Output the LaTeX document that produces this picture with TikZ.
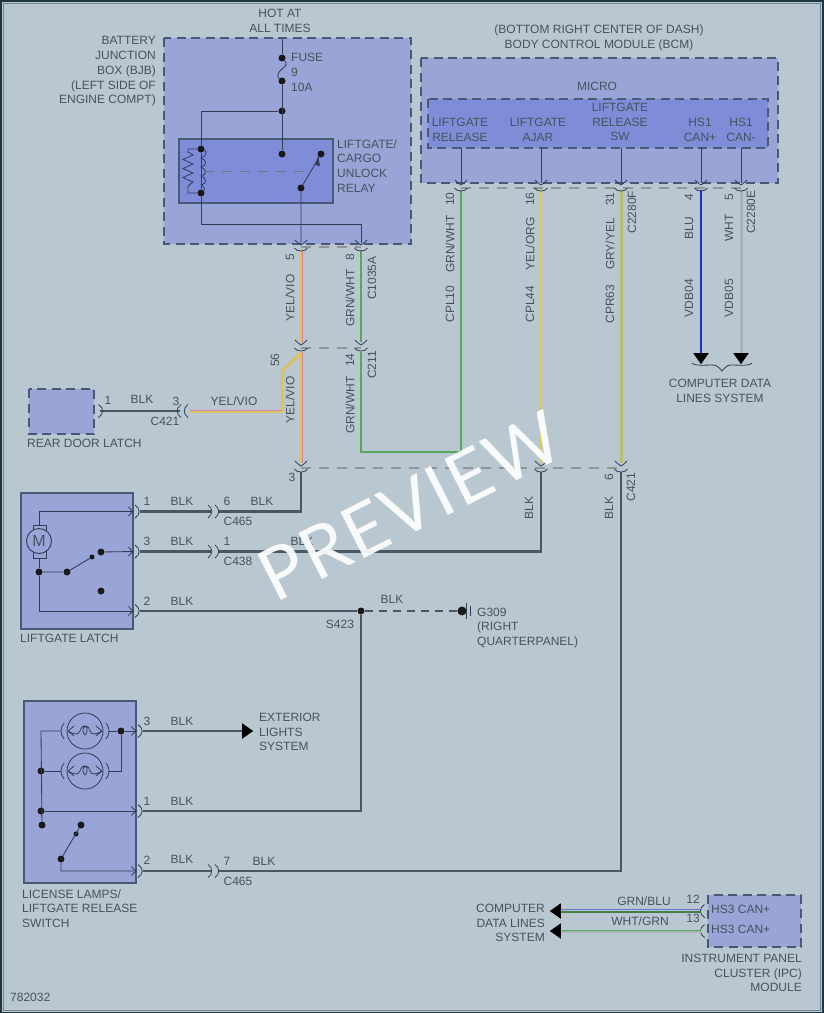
\documentclass[tikz,border=0pt]{standalone}
\usepackage{fontspec}
\setmainfont{Liberation Sans}
\newfontfamily\wmfont[LetterSpace=3]{Lato}
\usetikzlibrary{shapes.geometric}
\definecolor{pagebg}{HTML}{B9C8D0}
\definecolor{edgecol}{HTML}{1F3540}
\definecolor{boxfill}{HTML}{98A5D6}
\definecolor{innerfill}{HTML}{7F8CD8}
\definecolor{boxline}{HTML}{4A5878}
\definecolor{inkline}{HTML}{333D58}
\definecolor{txt}{HTML}{46525C}
\definecolor{blkwire}{HTML}{4A5662}
\definecolor{yelw}{HTML}{E2C24E}
\definecolor{pinkw}{HTML}{D088A8}
\definecolor{grnw}{HTML}{58A85C}
\definecolor{yorg}{HTML}{DCCB50}
\definecolor{gyel}{HTML}{B7BE72}
\definecolor{bluw}{HTML}{2030C8}
\definecolor{whtw}{HTML}{A9B3BA}
\tikzset{
  lbl/.style={font=\fontsize{12}{14.8}\selectfont,text=txt,inner sep=0pt,align=center},
  lbll/.style={lbl,anchor=west,align=left},
  lblr/.style={lbl,anchor=east,align=right},
  vlbl/.style={lbl,rotate=90},
  dashbox/.style={draw=boxline,line width=1.4pt,dash pattern=on 9pt off 5.5pt,fill=boxfill},
  solidbox/.style={draw=boxline,line width=1.2pt,fill=boxfill},
  thin wire/.style={draw=inkline,line width=.85pt},
  blkw/.style={draw=blkwire,line width=2.8pt},
  grnwire/.style={draw=grnw,line width=2.7pt},
  conndash/.style={draw=gray!70!pagebg,line width=1.1pt,dash pattern=on 10pt off 8pt},
  dotn/.style={circle,fill=black!90,inner sep=0pt,minimum size=#1},
  dotn/.default=7pt,
  symb/.style={draw=inkline,line width=.8pt},
  headarrow/.style={isosceles triangle,isosceles triangle apex angle=70,fill=black,inner sep=0pt,minimum height=11pt,minimum width=14pt,rotate=#1},
  vjoin/.pic={\draw[symb] (-6,-7) .. controls (-4,-5) and (-2,-3) .. (0,-2) .. controls (2,-3) and (4,-5) .. (6,-7);
              \draw[symb] (-6.5,1) .. controls (-4.5,5) and (4.5,5) .. (6.5,1);},
  hpin/.pic={\draw[symb] (-5,-4.5) .. controls (-3,-2) and (-2,-1) .. (0,0) .. controls (-2,1) and (-3,2) .. (-5,4.5);
             \draw[symb] (1.5,-6.5) .. controls (7,-3) and (7,3) .. (1.5,6.5);},
  pardir/.pic={\draw[symb] (-1,-6.5) .. controls (4,-3) and (4,3) .. (-1,6.5);
               \draw[symb] (6,-6.5) .. controls (11,-3) and (11,3) .. (6,6.5);},
  pardil/.pic={\draw[symb] (1,-6.5) .. controls (-4,-3) and (-4,3) .. (1,6.5);
               \draw[symb] (-6,-6.5) .. controls (-11,-3) and (-11,3) .. (-6,6.5);},
  ppin/.pic={\draw[symb] (1.5,-6.5) .. controls (7,-3) and (7,3) .. (1.5,6.5);},
  ppinl/.pic={\draw[symb] (-1.5,-6.5) .. controls (-7,-3) and (-7,3) .. (-1.5,6.5);},
  lampsym/.pic={
    \draw[symb] (0,0) circle (18);
    \draw[symb] (-21,-8) .. controls (-25,-3) and (-25,3) .. (-21,8);
    \draw[symb] (21,-8) .. controls (25,-3) and (25,3) .. (21,8);
    \draw[symb] (-11,-5) -- (-17,0) -- (-11,5);
    \draw[symb] (11,-5) -- (17,0) -- (11,5);
    \draw[symb] (-17,0) .. controls (-10,4) and (-7,4) .. (-5,0) .. controls (-3,-7) and (3,-7) .. (2,0) .. controls (1,5) and (-1,5) .. (-2,0) .. controls (-2,-7) and (4,-6) .. (5,0) .. controls (7,4) and (10,4) .. (17,0);}
}
\begin{document}
\begin{tikzpicture}[x=1pt,y=-1pt]
\useasboundingbox (0,0) rectangle (823,1013);
\fill[pagebg] (0,0) rectangle (823,1013);
\draw[edgecol,line width=3pt] (0,0) rectangle (823,1013);
\draw[edgecol!45!pagebg,line width=1pt] (3,3) rectangle (820,1010);

% ---- boxes
\path[dashbox] (164,38) rectangle (411,244);
\path[solidbox,fill=innerfill] (179,139) rectangle (333,203);
\path[dashbox] (421,58) rectangle (778,183);
\path[dashbox,fill=innerfill] (428,99) rectangle (768,148);
\path[dashbox] (29,389) rectangle (94,434);
\path[solidbox] (21,493) rectangle (133,629);
\path[solidbox] (24,701) rectangle (136,883);
\path[dashbox] (708,895) rectangle (801,947);

% ---- named points
\coordinate (hot) at (282,39);
\node[dotn] (f1) at (282,58) {};
\node[dotn] (f2) at (282,81) {};
\node[dotn] (j1) at (282,111) {};
\node[dotn] (r1) at (282,154) {};
\node[dotn] (r2) at (321,154) {};
\node[dotn] (r3) at (301,188) {};
\node[dotn] (c1) at (201,149) {};
\node[dotn] (c2) at (201,193) {};
\coordinate (p5a) at (301,243);
\coordinate (p8a) at (361,243);
\coordinate (rb) at (201,224);
\coordinate (rb2) at (361,224);
\coordinate (jb) at (201,111);
\coordinate (a5) at (301,250);
\coordinate (a8) at (361,250);
\coordinate (b5) at (301,342);
\coordinate (b8) at (361,342);
\coordinate (c5) at (301,352);
\coordinate (c8) at (361,352);
\coordinate (d5) at (301,463);

% ---- relay
\draw[thin wire] (hot) -- (f1);
\draw[thin wire] (f1) .. controls (287,63) and (287,65) .. (282,69) .. controls (277,73) and (277,77) .. (f2);
\draw[thin wire] (f2) -- (r1);
\draw[thin wire] (j1) -- (jb) -- (c1) -- (c2) -- (rb) -- (rb2) -- (p8a);
\draw[thin wire] (r2) -- (r3) -- (p5a);
\path[fill=inkline] (315,165) -- (318,156) -- (320,166) -- cycle;
\draw[thin wire,line width=.8pt] (c1) -- (188,149) -- (188,152) -- (193,155) -- (183,159.5) -- (193,164) -- (183,168.5) -- (193,173) -- (183,177.5) -- (193,182) -- (188,186) -- (188,193) -- (c2);
\draw[thin wire,line width=.8pt] (c1) .. controls (207,151) and (207,157) .. (201,158) .. controls (207,160) and (207,166) .. (201,167) .. controls (207,169) and (207,175) .. (201,176) .. controls (207,178) and (207,184) .. (201,185) .. controls (205,187) and (205,190) .. (c2);
\draw[gray!70!boxline,line width=.9pt,dash pattern=on 10pt off 8pt] (204,171) -- (310,171);

% ---- BCM stubs
\foreach \nm/\xx in {a/461,b/541,c/621,d/701,e/741}{
  \coordinate (bt\nm) at (\xx,148);
  \coordinate (bb\nm) at (\xx,183);
  \draw[thin wire] (bt\nm) -- (bb\nm);
}

% ---- connector dashed lines
\coordinate (dl1a) at (301,247); \coordinate (dl1b) at (361,247);
\coordinate (dl2a) at (301,348); \coordinate (dl2b) at (361,348);
\coordinate (dl3a) at (301,468); \coordinate (dl3b) at (621,468);
\coordinate (dl4a) at (461,188); \coordinate (dl4b) at (741,188);
\draw[conndash] (dl1a) -- (dl1b);
\draw[conndash] (dl2a) -- (dl2b);
\draw[conndash] (dl3a) -- (dl3b);
\draw[conndash] (dl4a) -- (dl4b);

% ---- coloured wires
\coordinate (e1) at (461,190); \coordinate (e2) at (461,452); \coordinate (e3) at (361,452);
\draw[grnwire] (a8) -- (b8);
\draw[grnwire] (e1) -- (e2) -- (e3) -- (c8);
\coordinate (e4) at (541,190); \coordinate (e5) at (541,463);
\draw[draw=yorg,line width=2.7pt] (e4) -- (e5);
\coordinate (e6) at (621,190); \coordinate (e7) at (621,463);
\draw[draw=gyel,line width=3pt] (e6) -- (e7);
\coordinate (e8) at (701,190); \coordinate (e9) at (701,353);
\draw[draw=bluw,line width=2.7pt] (e8) -- (e9);
\coordinate (e10) at (741,190); \coordinate (e11) at (741,353);
\draw[draw=whtw,line width=3pt] (e10) -- (e11);
% yellow/violet
\draw[draw=yelw,line width=2.2pt,transform canvas={xshift=-.4pt}] (a5) -- (b5);
\draw[draw=pinkw,line width=1pt,transform canvas={xshift=1pt}] (a5) -- (b5);
\draw[draw=yelw,line width=2.2pt,transform canvas={xshift=-.4pt}] (c5) -- (d5);
\draw[draw=pinkw,line width=1pt,transform canvas={xshift=1pt}] (c5) -- (d5);
\coordinate (y1) at (282,371); \coordinate (y2) at (282,411); \coordinate (y3) at (190,411);
\draw[draw=yelw,line width=2.4pt,transform canvas={yshift=-.4pt}] (c5) -- (y1) -- (y2) -- (y3);
\draw[draw=pinkw,line width=.8pt,transform canvas={yshift=1.1pt}] (y2) -- (y3);

% ---- black wires
\coordinate (w0) at (100,411); \coordinate (w1) at (180,411);
\draw[blkw] (w0) -- (w1);
\coordinate (up3) at (301,472); \coordinate (k3) at (301,511.5);
\coordinate (m6) at (218,511.5); \coordinate (l1a) at (140,511.5); \coordinate (l1b) at (211,511.5);
\draw[blkw] (up3) -- (k3) -- (m6);
\draw[blkw] (l1a) -- (l1b);
\coordinate (up5) at (541,472); \coordinate (k5) at (541,551.5);
\coordinate (m1) at (218,551.5); \coordinate (l3a) at (140,551.5); \coordinate (l3b) at (211,551.5);
\draw[blkw] (up5) -- (k5) -- (m1);
\draw[blkw] (l3a) -- (l3b);
\node[dotn] (s423) at (361,611) {};
\coordinate (l2a) at (140,611);
\draw[blkw] (l2a) -- (s423);
\coordinate (k9) at (361,811); \coordinate (ll1) at (143,811);
\draw[blkw] (s423) -- (k9) -- (ll1);
\coordinate (up6) at (621,472); \coordinate (k6) at (621,871); \coordinate (m7) at (218,871);
\draw[blkw] (up6) -- (k6) -- (m7);
\coordinate (ll2a) at (143,871); \coordinate (ll2b) at (211,871);
\draw[blkw] (ll2a) -- (ll2b);
\coordinate (ll3a) at (143,731); \node[headarrow=0,anchor=west] (ext) at (242,731) {};
\draw[blkw] (ll3a) -- (ext.west);
\node[dotn=9pt] (gnd) at (462,611) {};
\draw[draw=blkwire,line width=2.4pt,dash pattern=on 8pt off 6pt] (s423) -- (gnd);
\coordinate (g1) at (466,603); \coordinate (g2) at (466,619);
\coordinate (g3) at (470,606); \coordinate (g4) at (470,616);
\draw[symb] (g1) -- (g2); \draw[symb] (g3) -- (g4);

% ---- connector symbols
\foreach \xx/\yy in {301/247,361/247,301/347,361/347,301/468,541/468,621/468,461/187,541/187,621/187,701/187,741/187}{
  \pic at (\xx,\yy) {vjoin};
}
\foreach \xx/\yy in {133.5/511.5,133.5/551.5,133.5/611,136.5/731,136.5/811,136.5/871}{
  \pic at (\xx,\yy) {hpin};
}
\foreach \yy in {511.5,551.5,871}{ \pic at (209,\yy) {pardir}; }
\pic at (97,411) {ppin};
\pic at (187,411) {pardil};
\pic at (706,911) {ppinl};
\pic at (706,931) {ppinl};

% ---- arrowheads to data lines
\node[headarrow=-90,anchor=west] (hd1) at (e9) {};
\node[headarrow=-90,anchor=west] (hd2) at (e11) {};
\coordinate (br1) at (692,363); \coordinate (br2) at (722,371); \coordinate (br3) at (752,363);
\draw[symb] (br1) .. controls (695,367) and (712,364) .. (716,365.5) .. controls (719,367) and (720,369) .. (br2) .. controls (724,369) and (725,367) .. (728,365.5) .. controls (732,364) and (749,367) .. (br3);

% ---- IPC wires
\coordinate (i1) at (701,911); \coordinate (i1b) at (561,911);
\coordinate (i2) at (701,931); \coordinate (i2b) at (561,931);
\draw[draw=grnw!75!black,line width=2pt,transform canvas={yshift=-.7pt}] (i1) -- (i1b);
\draw[draw=bluw!55!pagebg,line width=1pt,transform canvas={yshift=1.1pt}] (i1) -- (i1b);
\draw[draw=whtw,line width=1.6pt,transform canvas={yshift=-.9pt}] (i2) -- (i2b);
\draw[draw=grnw,line width=1.5pt,transform canvas={yshift=.7pt}] (i2) -- (i2b);
\node[headarrow=180,anchor=west] (ih1) at (i1b) {};
\node[headarrow=180,anchor=west] (ih2) at (i2b) {};

% ---- liftgate latch innards
\coordinate (t1) at (133,511.5); \coordinate (t2) at (39,511.5); \coordinate (t3) at (39,525);
\draw[thin wire] (t1) -- (t2) -- (t3);
\path[symb] (33,525) rectangle (46,558);
\node[circle,draw=inkline,fill=boxfill,line width=.9pt,minimum size=25pt,inner sep=0pt,font=\fontsize{16}{16}\selectfont,text=txt] (mot) at (39,541) {M};
\node[dotn] (lg1) at (39,572) {};
\node[dotn] (lg2) at (67,572) {};
\node[dotn=5pt] (lg3) at (92,557) {};
\node[dotn] (lg4) at (101,552) {};
\node[dotn] (lg5) at (101,591) {};
\coordinate (t4) at (39,558); \coordinate (t5) at (39,611.5); \coordinate (t6) at (133,611.5); \coordinate (t7) at (133,551.5);
\draw[thin wire] (t4) -- (lg1) -- (t5) -- (t6);
\draw[thin wire] (lg1) -- (lg2) -- (lg3);
\draw[thin wire] (lg4) -- (t7);

% ---- license lamp innards
\pic at (85,731) {lampsym};
\pic at (85,771) {lampsym};
\node[dotn] (q1) at (41,771) {};
\node[dotn] (q2) at (41,811) {};
\node[dotn] (q3) at (42,825) {};
\node[dotn] (q4) at (121,731) {};
\node[dotn] (q5) at (81,825) {};
\node[dotn=5pt] (q6) at (76,834) {};
\node[dotn] (q7) at (61,859) {};
\coordinate (u1) at (41,731); \coordinate (u2) at (61,731); \coordinate (u3) at (61,771);
\coordinate (u4) at (136,811); \coordinate (u5) at (109,731); \coordinate (u6) at (136,731);
\coordinate (u7) at (109,771); \coordinate (u8) at (121,771); \coordinate (u9) at (61,871); \coordinate (u10) at (136,871);
\draw[thin wire] (u2) -- (u1) -- (q3);
\draw[thin wire] (q1) -- (u3);
\draw[thin wire] (q2) -- (u4);
\draw[thin wire] (u5) -- (q4) -- (u6);
\draw[thin wire] (u7) -- (u8) -- (q4);
\draw[thin wire] (q5) -- (q7) -- (u9) -- (u10);

% ---- text
\node[lbl] (tx1) at (280,20.5) {HOT AT\\ALL TIMES};
\node[lblr] (tx2) at (156,71.5) {BATTERY\\JUNCTION\\BOX (BJB)\\(LEFT SIDE OF\\ENGINE COMPT)};
\node[lbll] (tx3) at (291,72.5) {FUSE\\9\\10A};
\node[lbll] (tx4) at (337,166) {LIFTGATE/\\CARGO\\UNLOCK\\RELAY};
\node[lbl] (tx5) at (599,37.5) {(BOTTOM RIGHT CENTER OF DASH)\\BODY CONTROL MODULE (BCM)};
\node[lbl] (tx6) at (597,86) {MICRO};
\node[lbl] (tx7) at (460,129.5) {LIFTGATE\\RELEASE};
\node[lbl] (tx8) at (538,129.5) {LIFTGATE\\AJAR};
\node[lbl] (tx9) at (620,122) {LIFTGATE\\RELEASE\\SW};
\node[lbl] (tx10) at (700,129.5) {HS1\\CAN+};
\node[lbl] (tx11) at (741,129.5) {HS1\\CAN-};

\node[vlbl] (v1) at (290,257) {5};
\node[vlbl] (v2) at (290,298) {YEL/VIO};
\node[vlbl] (v3) at (350,257) {8};
\node[vlbl] (v4) at (350,298) {GRN/WHT};
\node[vlbl] (v5) at (372,278) {C1035A};
\node[vlbl] (v6) at (275,360) {56};
\node[vlbl] (v7) at (290,400) {YEL/VIO};
\node[vlbl] (v8) at (350,360) {14};
\node[vlbl] (v9) at (350,405) {GRN/WHT};
\node[vlbl] (v10) at (372,365) {C211};
\node[vlbl] (v11) at (450,199) {10};
\node[vlbl] (v12) at (450,244) {GRN/WHT};
\node[vlbl] (v13) at (450,304) {CPL10};
\node[vlbl] (v14) at (530,199) {16};
\node[vlbl] (v15) at (530,244) {YEL/ORG};
\node[vlbl] (v16) at (530,304) {CPL44};
\node[vlbl] (v17) at (610,199) {31};
\node[vlbl] (v18) at (610,244) {GRY/YEL};
\node[vlbl] (v19) at (610,304) {CPR63};
\node[vlbl] (v20) at (632,212) {C2280F};
\node[vlbl] (v21) at (689,197) {4};
\node[vlbl] (v22) at (689,228) {BLU};
\node[vlbl] (v23) at (689,298) {VDB04};
\node[vlbl] (v24) at (729,197) {5};
\node[vlbl] (v25) at (729,228) {WHT};
\node[vlbl] (v26) at (729,298) {VDB05};
\node[vlbl] (v27) at (751,212) {C2280E};
\node[vlbl] (v28) at (529,508) {BLK};
\node[vlbl] (v29) at (609,508) {BLK};
\node[vlbl] (v30) at (609,477) {6};
\node[vlbl] (v31) at (631,487) {C421};
\node[lbl] (h0) at (292,477) {3};

\node[lbl] (h1) at (108,400) {1};
\node[lbl] (h2) at (142,399) {BLK};
\node[lbl] (h3) at (176,401) {3};
\node[lbl] (h4) at (165,421) {C421};
\node[lbl] (h5) at (234,401) {YEL/VIO};
\node[lbll] (h6) at (27,443) {REAR DOOR LATCH};
\node[lbl] (h7) at (147,501) {1};
\node[lbl] (h8) at (182,501) {BLK};
\node[lbl] (h9) at (227,501) {6};
\node[lbl] (h10) at (262,501) {BLK};
\node[lbl] (h11) at (238,521) {C465};
\node[lbl] (h12) at (147,541) {3};
\node[lbl] (h13) at (182,541) {BLK};
\node[lbl] (h14) at (227,541) {1};
\node[lbl] (h15) at (302,541) {BLK};
\node[lbl] (h16) at (238,561) {C438};
\node[lbl] (h17) at (147,601) {2};
\node[lbl] (h18) at (182,601) {BLK};
\node[lbl] (h19) at (340,624) {S423};
\node[lbl] (h20) at (392,599) {BLK};
\node[lbll] (h21) at (477,628) {G309\\(RIGHT\\QUARTERPANEL)};
\node[lbll] (h22) at (20,638) {LIFTGATE LATCH};
\node[lbl] (h23) at (147,721) {3};
\node[lbl] (h24) at (182,721) {BLK};
\node[lbl] (h25) at (147,801) {1};
\node[lbl] (h26) at (182,801) {BLK};
\node[lbl] (h27) at (147,860) {2};
\node[lbl] (h28) at (182,859) {BLK};
\node[lbl] (h29) at (227,861) {7};
\node[lbl] (h30) at (264,861) {BLK};
\node[lbl] (h31) at (238,881) {C465};
\node[lbll] (h32) at (259,732) {EXTERIOR\\LIGHTS\\SYSTEM};
\node[lbll] (h33) at (22,908.5) {LICENSE LAMPS/\\LIFTGATE RELEASE\\SWITCH};
\node[lbl] (h34) at (720,390.5) {COMPUTER DATA\\LINES SYSTEM};
\node[lblr] (h35) at (545,923) {COMPUTER\\DATA LINES\\SYSTEM};
\node[lbl] (h36) at (644,901) {GRN/BLU};
\node[lbl] (h37) at (640,921) {WHT/GRN};
\node[lbl] (h38) at (693,899) {12};
\node[lbl] (h39) at (693,918) {13};
\node[lbll] (h40) at (711,909) {HS3 CAN+};
\node[lbll] (h41) at (711,929) {HS3 CAN+};
\node[lblr] (h42) at (802,973) {INSTRUMENT PANEL\\CLUSTER (IPC)\\MODULE};
\node[lbll] (h43) at (10,997) {782032};

% ---- watermark
\node[font=\wmfont\fontsize{72}{80}\selectfont,text=white,text opacity=.92,inner sep=0pt,rotate=27] (wm) at (410,506) {PREVIEW};
\end{tikzpicture}
\end{document}
